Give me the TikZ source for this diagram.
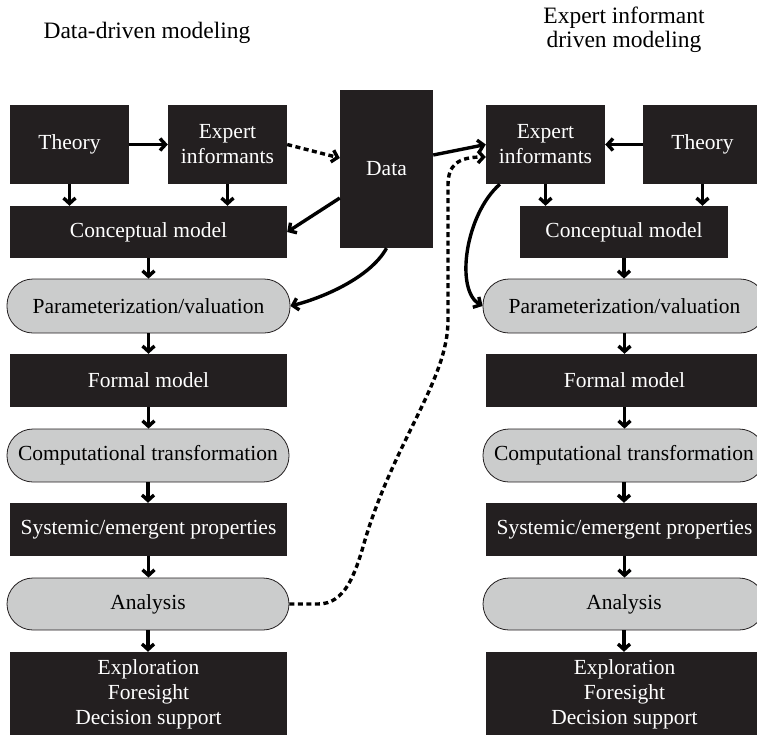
\documentclass[tikz,border=0pt]{standalone}
\usepackage{fontspec}
\setmainfont{Liberation Serif}
\usetikzlibrary{arrows.meta,calc}
\definecolor{boxdark}{HTML}{231F20}
\definecolor{pillgray}{HTML}{CBCCCC}

\begin{document}
\begin{tikzpicture}[x=1pt,y=-1pt,
  boxtxt/.style={font=\fontsize{21.5}{25}\selectfont, align=center, inner sep=0pt},
  box/.style={boxtxt, rectangle, fill=boxdark, draw=none, text=white},
  pill/.style={boxtxt, rectangle, rounded corners=26pt, fill=pillgray, draw=boxdark,
    line width=0.8pt, text=black, minimum height=53pt, minimum width=282pt},
  small/.style={minimum width=119pt, minimum height=79pt},
  wide/.style={minimum width=277pt, minimum height=53pt},
  flow/.style={line width=3.4pt, -{Straight Barb[length=5.5pt,width=12pt]}},
  hint/.style={flow, dash pattern=on 5pt off 3.5pt},
  head/.style={font=\fontsize{23.5}{24}\selectfont, align=center, inner sep=0pt}
]
\useasboundingbox (0,0) rectangle (757,734);
\clip (0,0) rectangle (757,734);

% column headings
\node[head, anchor=base] (hL) at (147,38) {Data-driven modeling};
\node[head] (hR) at (624,30) {Expert informant\\driven modeling};

% data-driven column
\node[box, small] (thL) at (69.5,144.5) {Theory};
\node[box, small] (exL) at (227.5,144.5) {Expert\\informants};
\node[box, minimum width=277pt, minimum height=52pt] (cmL) at (148.5,232) {Conceptual model};
\node[pill, minimum width=283pt, minimum height=54pt] (pvL) at (148.5,306) {Parameterization/valuation};
\node[box, wide] (fmL) at (148.5,380.5) {Formal model};
\node[pill] (ctL) at (148,455.5) {Computational transformation};
\node[box, wide] (spL) at (148.5,529.5) {Systemic/emergent properties};
\node[pill, minimum height=52pt] (anL) at (148,604) {Analysis};
\node[box, minimum width=277pt, minimum height=84pt] (opL) at (148.5,694) {Exploration\\Foresight\\Decision support};

% shared data source
\node[box, minimum width=93pt, minimum height=158pt] (dat) at (386.5,169) {Data};

% expert-informant column
\node[box, small] (exR) at (545.5,144.5) {Expert\\informants};
\node[box, small] (thR) at (702.5,144.5) {Theory};
\node[box, minimum width=208pt, minimum height=52pt] (cmR) at (624,232) {Conceptual model};
\node[pill, minimum width=283pt, minimum height=54pt] (pvR) at (624.5,306) {Parameterization/valuation};
\node[box, wide] (fmR) at (624.5,380.5) {Formal model};
\node[pill] (ctR) at (624,455.5) {Computational transformation};
\node[box, wide] (spR) at (624.5,529.5) {Systemic/emergent properties};
\node[pill, minimum height=52pt] (anR) at (624,604) {Analysis};
\node[box, minimum width=277pt, minimum height=84pt] (opR) at (624.5,694) {Exploration\\Foresight\\Decision support};

% left column flow
\draw[flow] (thL.east) -- (exL.west);
\draw[flow] (thL.south) -- (thL.south |- cmL.north);
\draw[flow] (exL.south) -- (exL.south |- cmL.north);
\draw[flow] (cmL.south) -- (cmL.south |- pvL.north);
\draw[flow] (pvL.south) -- (pvL.south |- fmL.north);
\draw[flow] (fmL.south) -- (fmL.south |- ctL.north);
\draw[flow] (ctL.south) -- (ctL.south |- spL.north);
\draw[flow] (spL.south) -- (spL.south |- anL.north);
\draw[flow] (anL.south) -- (anL.south |- opL.north);

% right column flow
\draw[flow] (thR.west) -- (exR.east);
\draw[flow] (exR.south) -- (exR.south |- cmR.north);
\draw[flow] (thR.south) -- (thR.south |- cmR.north);
\draw[flow] (cmR.south) -- (cmR.south |- pvR.north);
\draw[flow] (pvR.south) -- (pvR.south |- fmR.north);
\draw[flow] (fmR.south) -- (fmR.south |- ctR.north);
\draw[flow] (ctR.south) -- (ctR.south |- spR.north);
\draw[flow] (spR.south) -- (spR.south |- anR.north);
\draw[flow] (anR.south) -- (anR.south |- opR.north);

% links through the data
\draw[hint] (exL.east) -- ([yshift=11pt]dat.west);
\draw[flow] ([yshift=-29pt]dat.west) -- (cmL.east);
\draw[flow] (dat.south) .. controls (370,278) and (322,298) .. (pvL.east);
\draw[flow] ([yshift=14pt]dat.east) -- (exR.west);
\draw[flow] ($(exR.south west)+(14,0)$) .. controls (465,215) and (455,290) .. (pvR.west);

% feedback from analysis to the experts
\draw[hint] (anL.east) -- (318,604)
  .. controls (345,604) and (355,575) .. (365,540)
  .. controls (395,440) and (448,380) .. (448,320)
  -- (448,185)
  .. controls (448,165) and (458,157) .. ([yshift=-12.5pt]exR.west);
\end{tikzpicture}
\end{document}
